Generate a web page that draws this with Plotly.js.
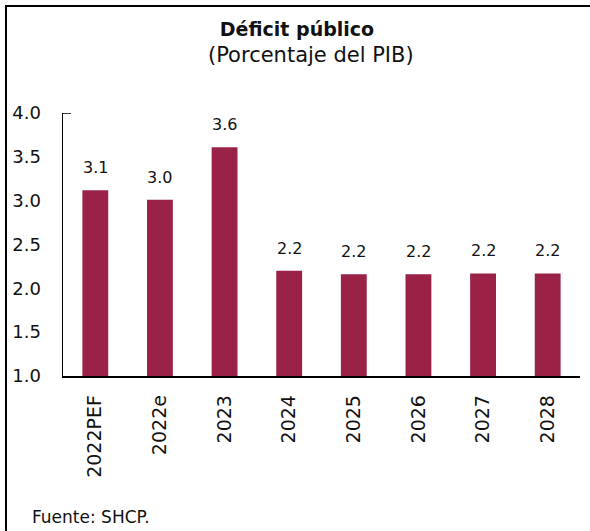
<!DOCTYPE html>
<html>
<head>
<meta charset="utf-8">
<script src="https://cdn.plot.ly/plotly-3.0.1.min.js"></script>
<style>
html,body{margin:0;padding:0;background:#fff;}
#wrap{position:relative;width:590px;height:531px;}
#chart{width:590px;height:531px;}
#frame{position:absolute;left:5px;top:5px;width:584px;height:526px;border-top:2px solid #000;border-left:2px solid #000;pointer-events:none;}
</style>
</head>
<body>
<div id="wrap"><div id="chart"></div><div id="frame"></div></div>
<script>
const categories = ['2022PEF','2022e','2023','2024','2025','2026','2027','2028'];
const deficit = [3.12, 3.01, 3.61, 2.20, 2.16, 2.16, 2.17, 2.17];
const yTicks = [1.0, 1.5, 2.0, 2.5, 3.0, 3.5, 4.0];
const titleText = 'Déficit público';
const subtitleText = '(Porcentaje del PIB)';
const sourceText = 'Fuente: SHCP.';

const FONT = 'DejaVu Sans, sans-serif';
const W = 590, H = 531;
const L = 63, R = 10, T = 113, B = 155;
const pw = W - L - R, ph = H - T - B;
const px = x => (x - L) / pw;
const py = y => (H - B - y) / ph;

const labelAnns = categories.map((c, i) => ({
  x: i, y: deficit[i], xref: 'x', yref: 'y',
  text: deficit[i].toFixed(1), showarrow: false,
  yanchor: 'bottom', yshift: 11,
  font: {family: FONT, size: 16, color: '#111'}
}));

const data = [{
  type: 'bar', x: categories, y: deficit,
  marker: {color: '#9B2247', line: {width: 0}},
  width: 0.4, hoverinfo: 'x+y'
}];

const layout = {
  width: W, height: H,
  margin: {l: L, r: R, t: T, b: B, pad: 0},
  paper_bgcolor: '#fff', plot_bgcolor: '#fff',
  showlegend: false,
  font: {family: FONT, color: '#111'},
  title: {
    text: '<b>' + titleText + '</b>',
    x: 297 / W, xanchor: 'center', xref: 'container',
    y: 1 - 29.5 / H, yanchor: 'middle', yref: 'container',
    font: {family: FONT, size: 19, color: '#111'}
  },
  xaxis: {
    type: 'category', categoryorder: 'array', categoryarray: categories,
    range: [-0.5, categories.length - 0.5], autorange: false,
    showline: true, linecolor: '#000', linewidth: 1.5,
    ticks: '', tickangle: -90, ticklabelstandoff: 10,
    tickfont: {family: FONT, size: 19, color: '#111'},
    showgrid: false, zeroline: false, fixedrange: true
  },
  yaxis: {
    range: [1, 4], autorange: false, tickvals: yTicks, tickformat: '.1f',
    showline: true, linecolor: '#000', linewidth: 1.5,
    ticks: '', ticklabelstandoff: 17,
    tickfont: {family: FONT, size: 18, color: '#111'},
    showgrid: false, zeroline: false, fixedrange: true
  },
  shapes: [{
    type: 'line', xref: 'paper', yref: 'y',
    x0: 0, x1: 8 / pw, y0: 4, y1: 4,
    line: {color: '#000', width: 1.5}
  }],
  annotations: labelAnns.concat([
    {xref: 'paper', yref: 'paper', x: px(311), y: py(55), xanchor: 'center', yanchor: 'middle',
     text: subtitleText, showarrow: false, font: {family: FONT, size: 21, color: '#111'}},
    {xref: 'paper', yref: 'paper', x: px(30), y: py(517), xanchor: 'left', yanchor: 'middle',
     text: sourceText, showarrow: false, font: {family: FONT, size: 17, color: '#111'}}
  ])
};

Plotly.newPlot('chart', data, layout, {displayModeBar: false, staticPlot: true});
</script>
</body>
</html>
